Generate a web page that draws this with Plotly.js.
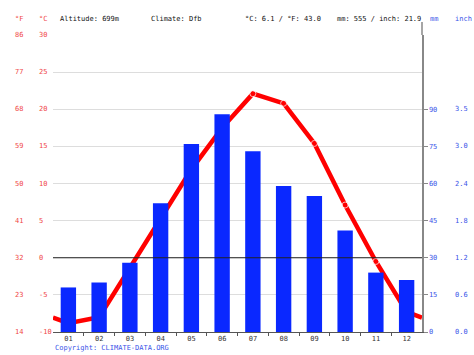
<!DOCTYPE html>
<html>
<head>
<meta charset="utf-8">
<script src="https://cdn.plot.ly/plotly-3.0.1.min.js"></script>
<style>html,body{margin:0;padding:0;background:#fff;}#chart{width:474px;height:355px;}</style>
</head>
<body>
<div id="chart"></div>
<script>
const months = ['01','02','03','04','05','06','07','08','09','10','11','12'];
const tempC = [-8.8, -8.0, -1.3, 5.4, 11.9, 17.5, 22.1, 20.8, 15.4, 7.1, -0.5, -7.3];
const precipMm = [18, 20, 28, 52, 76, 88, 73, 59, 55, 41, 24, 21];
const cTicks = [-10, -5, 0, 5, 10, 15, 20, 25, 30];
const fLabels = ['14', '23', '32', '41', '50', '59', '68', '77', '86'];
const mmTicks = [0, 15, 30, 45, 60, 75, 90];
const inchLabels = ['0.0', '0.6', '1.2', '1.8', '2.4', '3.0', '3.5'];
const headerTexts = ['Altitude: 699m', 'Climate: Dfb', '°C: 6.1 / °F: 43.0', 'mm: 555 / inch: 21.9'];

const W = 474, H = 355, L = 53, R = 52, T = 35, B = 23;
const PW = W - L - R, PH = H - T - B;
const px = x => (x - L) / PW;
const py = y => (H - B - y) / PH;

const mono = 'DejaVu Sans Mono, Liberation Mono, monospace';
const red = '#f04848';
const blue = '#3a55e8';
const grey = '#333333';

const xs = months.map((m, i) => i + 1);
const edge = (tempC[0] + tempC[11]) / 2;
const lineX = [0.5].concat(xs, [12.5]);
const lineY = [edge].concat(tempC, [edge]);

const traces = [
  {
    type: 'bar', x: xs, y: precipMm, yaxis: 'y2', width: 0.5,
    marker: {color: '#0a28ff', line: {width: 0}}, hoverinfo: 'skip'
  },
  {
    type: 'scatter', mode: 'lines+markers', x: lineX, y: lineY, yaxis: 'y',
    line: {color: '#ff0000', width: 4.5},
    marker: {color: '#ff0000', size: lineX.map((v, i) => (i === 0 || i === lineX.length - 1) ? 0 : 6)},
    hoverinfo: 'skip', cliponaxis: false
  }
];

const ann = [];
const fs = 7;
cTicks.forEach((c, i) => {
  ann.push({xref: 'paper', yref: 'y', x: px(37), y: c, text: String(c), showarrow: false,
    xanchor: 'left', yanchor: 'middle', font: {family: mono, size: fs, color: red}});
  ann.push({xref: 'paper', yref: 'y', x: px(13), y: c, text: fLabels[i], showarrow: false,
    xanchor: 'left', yanchor: 'middle', font: {family: mono, size: fs, color: red}});
});
mmTicks.forEach((m, i) => {
  ann.push({xref: 'paper', yref: 'y2', x: px(453), y: m, text: inchLabels[i], showarrow: false,
    xanchor: 'left', yanchor: 'middle', font: {family: mono, size: fs, color: blue}});
});
const headY = py(19);
ann.push({xref: 'paper', yref: 'paper', x: px(13), y: headY, text: '°F', showarrow: false, xanchor: 'left', yanchor: 'middle', font: {family: mono, size: fs, color: red}});
ann.push({xref: 'paper', yref: 'paper', x: px(37), y: headY, text: '°C', showarrow: false, xanchor: 'left', yanchor: 'middle', font: {family: mono, size: fs, color: red}});
const headX = [58, 149, 243, 335];
headerTexts.forEach((t, i) => {
  ann.push({xref: 'paper', yref: 'paper', x: px(headX[i]), y: headY, text: t, showarrow: false,
    xanchor: 'left', yanchor: 'middle', font: {family: mono, size: fs, color: '#111'}});
});
ann.push({xref: 'paper', yref: 'paper', x: px(428), y: headY, text: 'mm', showarrow: false, xanchor: 'left', yanchor: 'middle', font: {family: mono, size: fs, color: blue}});
ann.push({xref: 'paper', yref: 'paper', x: px(453), y: headY, text: 'inch', showarrow: false, xanchor: 'left', yanchor: 'middle', font: {family: mono, size: fs, color: blue}});
ann.push({xref: 'paper', yref: 'paper', x: px(53), y: py(348), text: 'Copyright: CLIMATE-DATA.ORG', showarrow: false, xanchor: 'left', yanchor: 'middle', font: {family: mono, size: fs, color: blue}});

const layout = {
  width: W, height: H,
  margin: {l: L, r: R, t: T, b: B, pad: 0},
  paper_bgcolor: '#fff', plot_bgcolor: '#fff',
  showlegend: false,
  bargap: 0.5,
  xaxis: {
    range: [0.5, 12.5], tickvals: xs, ticktext: months, ticks: '',
    tickfont: {family: mono, size: fs, color: grey},
    showgrid: false, zeroline: false, showline: true, linecolor: '#555', linewidth: 1,
    fixedrange: true,
    minor: {tickvals: xs.map(v => v + 0.5).slice(0, 11), ticks: 'outside', ticklen: 3, tickcolor: '#555', showgrid: false}
  },
  yaxis: {
    range: [-10, 30], tickvals: cTicks, showticklabels: false, ticks: '',
    showgrid: true, gridcolor: '#dddddd', gridwidth: 1,
    zeroline: false, showline: false, fixedrange: true
  },
  yaxis2: {
    range: [0, 120], overlaying: 'y', side: 'right', tickvals: mmTicks,
    ticks: 'outside', ticklen: 4, tickcolor: '#888', tickwidth: 1,
    tickfont: {family: mono, size: fs, color: blue},
    showgrid: false, zeroline: false, showline: true, linecolor: '#888', linewidth: 1.5,
    fixedrange: true
  },
  shapes: [
    {type: 'line', xref: 'paper', yref: 'y', x0: 0, x1: 1, y0: 0, y1: 0, line: {color: '#222', width: 1}, layer: 'above'},
    {type: 'line', xref: 'paper', yref: 'paper', x0: 1, x1: 1, y0: 1, y1: py(22), line: {color: '#888', width: 1.5}}
  ],
  annotations: ann
};

Plotly.newPlot('chart', traces, layout, {staticPlot: true, displayModeBar: false});
</script>
</body>
</html>
